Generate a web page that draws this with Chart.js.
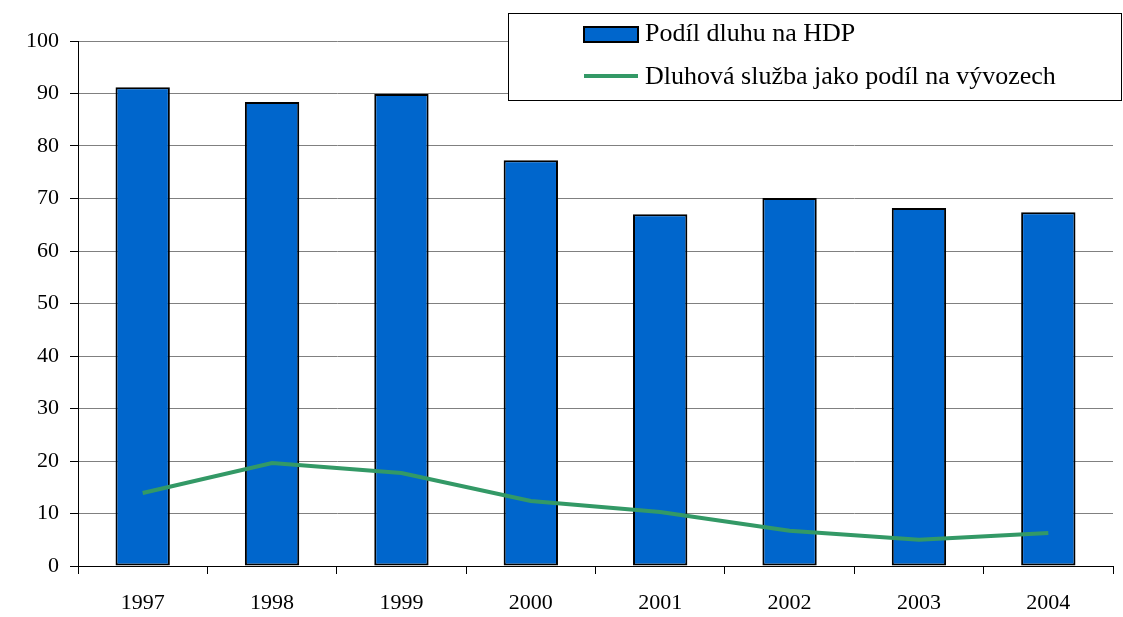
<!DOCTYPE html>
<html>
<head>
<meta charset="utf-8">
<script src="https://cdn.jsdelivr.net/npm/chart.js@4"></script>
<style>
  html, body { margin: 0; padding: 0; background: #fff; }
  #wrap { width: 1123px; height: 617px; }
</style>
</head>
<body>
<div id="wrap"><canvas id="myChart" width="1123" height="617"></canvas></div>
<script>
var years = ["1997", "1998", "1999", "2000", "2001", "2002", "2003", "2004"];
var debtToGdp = [91.2, 88.4, 89.9, 77.3, 67.0, 70.1, 68.2, 67.4];
var debtService = [13.9, 19.6, 17.7, 12.4, 10.3, 6.7, 5.0, 6.3];
var seriesNames = ["Podíl dluhu na HDP", "Dluhová služba jako podíl na vývozech"];

var serif = "'Liberation Serif', 'Times New Roman', serif";

// legend box drawn over the top right of the plot
var boxLegend = {
  id: "boxLegend",
  afterDraw: function (chart) {
    var c = chart.ctx;
    c.save();
    c.fillStyle = "#fff";
    c.fillRect(508, 13, 614, 87);
    c.strokeStyle = "#000";
    c.lineWidth = 1;
    c.strokeRect(508.5, 13.5, 613, 87);
    c.fillStyle = "#0066CC";
    c.fillRect(584, 27, 54, 15);
    c.strokeStyle = "#000";
    c.lineWidth = 2;
    c.strokeRect(584, 27, 54, 15);
    c.strokeStyle = "#339966";
    c.lineWidth = 4;
    c.beginPath();
    c.moveTo(584, 76);
    c.lineTo(638, 76);
    c.stroke();
    c.fillStyle = "#000";
    c.font = "26px " + serif;
    c.textBaseline = "middle";
    c.fillText(seriesNames[0], 645, 34);
    c.fillText(seriesNames[1], 645, 77);
    c.restore();
  },
};

var ctx = document.getElementById("myChart").getContext("2d");
var myChart = new Chart(ctx, {
  type: "bar",
  data: {
    labels: years,
    datasets: [
      {
        type: "line",
        label: seriesNames[1],
        data: debtService,
        borderColor: "#339966",
        borderWidth: 4,
        pointRadius: 0,
        tension: 0,
        fill: false,
        order: 0,
      },
      {
        label: seriesNames[0],
        data: debtToGdp,
        backgroundColor: "#0066CC",
        borderColor: "#000",
        borderWidth: 2,
        borderSkipped: false,
        barPercentage: 0.42,
        categoryPercentage: 1,
        order: 1,
      },
    ],
  },
  options: {
    responsive: false,
    animation: false,
    layout: { padding: { top: 41, right: 10, left: 0, bottom: 0 } },
    plugins: {
      legend: { display: false },
      tooltip: { enabled: false },
    },
    scales: {
      x: {
        offset: true,
        afterFit: function (axis) { axis.height = 51; },
        grid: {
          offset: true,
          drawOnChartArea: false,
          tickLength: 8,
          tickColor: "#000",
        },
        border: { color: "#000", width: 1 },
        ticks: {
          color: "#000",
          font: { family: serif, size: 22 },
          padding: 16,
        },
      },
      y: {
        min: 0,
        max: 100,
        afterFit: function (axis) { axis.width = 78; },
        grid: {
          color: "#808080",
          tickColor: "#000",
          tickLength: 8,
        },
        border: { color: "#000", width: 1 },
        ticks: {
          stepSize: 10,
          color: "#000",
          font: { family: serif, size: 22 },
          padding: 11,
        },
      },
    },
  },
  plugins: [boxLegend],
});
</script>
</body>
</html>
